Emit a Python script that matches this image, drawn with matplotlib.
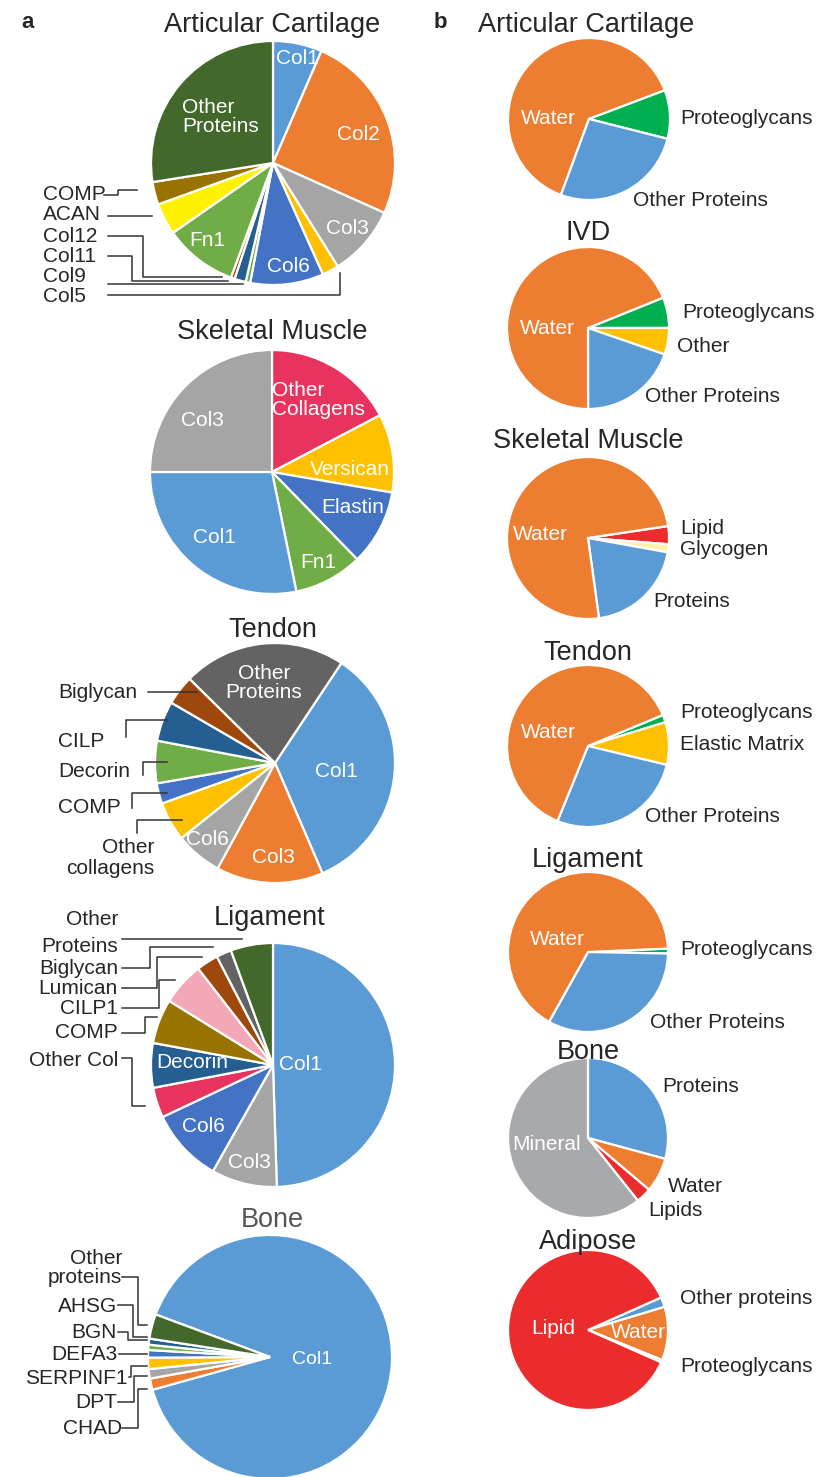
import matplotlib.pyplot as plt

plt.rcParams['font.family'] = ['Liberation Sans', 'DejaVu Sans']

W, H = 829, 1477

# Office-style palette
BLUE = '#5B9BD5'
ORANGE = '#ED7D31'
GRAY = '#A5A5A5'
GOLD = '#FFC000'
MBLUE = '#4472C4'
GREEN = '#70AD47'
DBLUE = '#255E91'
BROWN = '#9E480E'
DGRAY = '#636363'
OLIVE = '#997300'
DGREEN = '#43682B'
YELLOW = '#FFF200'
ROSE = '#E8335E'
PINK = '#F4A7B6'
PGREEN = '#00B050'
RED = '#EC2C2C'
PALE = '#FFF2A8'
MINERAL = '#A7A9AC'

TEXT = '#262626'
LINE = '#333333'

# ---- a: protein composition of the matrix ----
cart_labels = ['Col1', 'Col2', 'Col3', 'Col5', 'Col6', 'Col9', 'Col11', 'Col12',
               'Fn1', 'ACAN', 'COMP', 'Other Proteins']
cart_values = [6.5, 25.2, 9.4, 2.2, 9.7, 0.6, 1.5, 0.5, 9.7, 4.2, 3.0, 27.5]
cart_colors = [BLUE, ORANGE, GRAY, GOLD, MBLUE, GREEN, DBLUE, BROWN,
               GREEN, YELLOW, OLIVE, DGREEN]

musc_labels = ['Other Collagens', 'Versican', 'Elastin', 'Fn1', 'Col1', 'Col3']
musc_values = [17.3, 10.4, 10.0, 9.1, 28.2, 25.0]
musc_colors = [ROSE, GOLD, MBLUE, GREEN, BLUE, GRAY]

tend_labels = ['Col1', 'Col3', 'Col6', 'Other collagens', 'COMP', 'Decorin',
               'CILP', 'Biglycan', 'Other Proteins']
tend_values = [34.2, 14.4, 6.3, 5.3, 2.75, 5.7, 5.4, 4.0, 21.95]
tend_colors = [BLUE, ORANGE, GRAY, GOLD, MBLUE, GREEN, DBLUE, BROWN, DGRAY]

liga_labels = ['Col1', 'Col3', 'Col6', 'Other Col', 'Decorin', 'COMP', 'CILP1',
               'Lumican', 'Biglycan', 'Other Proteins']
liga_values = [49.5, 8.7, 9.8, 4.0, 5.9, 5.9, 5.7, 2.9, 2.0, 5.6]
liga_colors = [BLUE, GRAY, MBLUE, ROSE, DBLUE, OLIVE, PINK, BROWN, DGRAY, DGREEN]

bone_labels = ['Col1', 'CHAD', 'DPT', 'SERPINF1', 'DEFA3', 'BGN', 'AHSG',
               'Other proteins']
bone_values = [90.0, 1.5, 1.25, 1.5, 1.0, 0.7, 0.8, 3.25]
bone_colors = [BLUE, ORANGE, GRAY, GOLD, MBLUE, GREEN, DBLUE, DGREEN]

# ---- b: bulk tissue composition ----
b_cart_labels = ['Water', 'Proteoglycans', 'Other Proteins']
b_cart_values = [63.6, 9.7, 26.7]
b_cart_colors = [ORANGE, PGREEN, BLUE]

b_ivd_labels = ['Proteoglycans', 'Other', 'Other Proteins', 'Water']
b_ivd_values = [6.1, 5.3, 19.7, 68.9]
b_ivd_colors = [PGREEN, GOLD, BLUE, ORANGE]

b_musc_labels = ['Lipid', 'Glycogen', 'Proteins', 'Water']
b_musc_values = [3.6, 1.6, 20.0, 74.8]
b_musc_colors = [RED, PALE, BLUE, ORANGE]

b_tend_labels = ['Proteoglycans', 'Elastic Matrix', 'Other Proteins', 'Water']
b_tend_values = [1.5, 8.5, 27.4, 62.6]
b_tend_colors = [PGREEN, GOLD, BLUE, ORANGE]

b_liga_labels = ['Proteoglycans', 'Other Proteins', 'Water']
b_liga_values = [1.0, 32.8, 66.2]
b_liga_colors = [PGREEN, BLUE, ORANGE]

b_bone_labels = ['Proteins', 'Water', 'Lipids', 'Mineral']
b_bone_values = [29.2, 7.0, 3.1, 60.7]
b_bone_colors = [BLUE, ORANGE, RED, MINERAL]

b_adip_labels = ['Other proteins', 'Water', 'Proteoglycans', 'Lipid']
b_adip_values = [2.0, 10.8, 0.5, 86.7]
b_adip_colors = [BLUE, ORANGE, PGREEN, RED]


fig = plt.figure(figsize=(W / 100, H / 100), dpi=100)
ax = fig.add_axes([0, 0, 1, 1])


def pie(cx, cy, r, values, colors, start):
    ax.pie(values, colors=colors, startangle=start, counterclock=False,
           center=(cx, H - cy), radius=r,
           wedgeprops=dict(edgecolor='white', linewidth=1.6))


def label(x, y, s, color=TEXT, size=15, ha='center', **kw):
    ax.text(x, H - y, s, color=color, fontsize=size, ha=ha, va='center', **kw)


def inner(x, y, s, ha='center', size=15, **kw):
    label(x, y, s, color='white', size=size, ha=ha, **kw)


def leader(pts):
    xs, ys = zip(*pts)
    ax.plot(xs, [H - y for y in ys], color=LINE, lw=1.1)


def title(x, y, s, color=TEXT):
    label(x, y, s, color=color, size=19.5)


# panel letters
label(28, 22, 'a', size=16, fontweight='bold')
label(440, 22, 'b', size=16, fontweight='bold')

# ---------------- column a ----------------
title(272, 25, 'Articular Cartilage')
pie(273, 163, 122, cart_values, cart_colors, 90)
inner(297, 59, 'Col1')
inner(358, 135, 'Col2')
inner(347, 228, 'Col3')
inner(288, 266, 'Col6')
inner(207, 240, 'Fn1')
inner(182, 117, 'Other\nProteins', ha='left', multialignment='left',
      linespacing=1.05)
for name, y in zip(['COMP', 'ACAN', 'Col12', 'Col11', 'Col9', 'Col5'],
                   [194, 215, 236, 256, 277, 296]):
    label(43, y, name, ha='left')
leader([(104, 195), (118, 195), (118, 190), (137, 190)])
leader([(108, 216), (152, 216)])
leader([(108, 236), (143, 236), (143, 277), (222, 277)])
leader([(108, 256), (132, 256), (132, 281), (228, 281)])
leader([(108, 284), (243, 284)])
leader([(108, 295), (340, 295), (340, 273)])

title(272, 332, 'Skeletal Muscle')
pie(272, 472, 122, musc_values, musc_colors, 90)
inner(272, 400, 'Other\nCollagens', ha='left', multialignment='left',
      linespacing=1.0)
inner(350, 470, 'Versican')
inner(353, 508, 'Elastin')
inner(318, 563, 'Fn1')
inner(214, 538, 'Col1')
inner(202, 420, 'Col3')

title(273, 630, 'Tendon')
pie(275, 763, 120, tend_values, tend_colors, 56.4)
inner(264, 683, 'Other\nProteins', linespacing=1.05)
inner(336, 772, 'Col1')
inner(273, 858, 'Col3')
inner(207, 840, 'Col6')
label(58, 693, 'Biglycan', ha='left')
label(58, 742, 'CILP', ha='left')
label(58, 772, 'Decorin', ha='left')
label(58, 808, 'COMP', ha='left')
label(154, 858, 'Other\ncollagens', ha='right', multialignment='right',
      linespacing=1.1)
leader([(148, 692), (197, 692)])
leader([(126, 737), (126, 720), (167, 720)])
leader([(143, 775), (143, 762), (167, 762)])
leader([(132, 808), (132, 793), (167, 793)])
leader([(137, 833), (137, 820), (182, 820)])

title(270, 918, 'Ligament')
pie(273, 1065, 122, liga_values, liga_colors, 90)
inner(192, 1063, 'Decorin')
inner(300, 1065, 'Col1')
inner(203, 1126, 'Col6')
inner(249, 1163, 'Col3')
for name, y in zip(['Other', 'Proteins', 'Biglycan', 'Lumican', 'CILP1',
                    'COMP', 'Other Col'],
                   [920, 947, 968, 988, 1008, 1033, 1060]):
    label(118, y, name, ha='right')
leader([(122, 939), (242, 939)])
leader([(122, 968), (150, 968), (150, 947), (213, 947)])
leader([(122, 988), (157, 988), (157, 957), (202, 957)])
leader([(122, 1008), (159, 1008), (159, 980), (175, 980)])
leader([(122, 1033), (145, 1033), (145, 1017), (157, 1017)])
leader([(122, 1058), (132, 1058), (132, 1106), (145, 1106)])

title(272, 1220, 'Bone', color='#555555')
pie(270, 1357, 122, bone_values, bone_colors, -200.4)
inner(312, 1360, 'Col1', size=14)
label(122, 1268, 'Other\nproteins', ha='right', multialignment='right',
      linespacing=1.05)
label(117, 1306, 'AHSG', ha='right')
label(117, 1332, 'BGN', ha='right')
label(118, 1354, 'DEFA3', ha='right')
label(128, 1378, 'SERPINF1', ha='right')
label(117, 1402, 'DPT', ha='right')
label(122, 1428, 'CHAD', ha='right')
leader([(122, 1277), (138, 1277), (138, 1325), (147, 1325)])
leader([(118, 1305), (133, 1305), (133, 1337), (147, 1337)])
leader([(118, 1332), (128, 1332), (128, 1340), (147, 1340)])
leader([(119, 1354), (147, 1354)])
leader([(129, 1377), (131, 1377), (131, 1366), (147, 1366)])
leader([(118, 1402), (134, 1402), (134, 1376), (147, 1376)])
leader([(122, 1428), (138, 1428), (138, 1389), (147, 1389)])

# ---------------- column b ----------------
title(586, 25, 'Articular Cartilage')
pie(589, 119, 81, b_cart_values, b_cart_colors, 249.7)
inner(548, 118, 'Water')
label(680, 118, 'Proteoglycans', ha='left')
label(633, 200, 'Other Proteins', ha='left')

title(588, 233, 'IVD')
pie(588, 328, 81, b_ivd_values, b_ivd_colors, 22)
inner(547, 328, 'Water')
label(682, 313, 'Proteoglycans', ha='left')
label(677, 347, 'Other', ha='left')
label(645, 397, 'Other Proteins', ha='left')

title(588, 441, 'Skeletal Muscle')
pie(588, 538, 81, b_musc_values, b_musc_colors, 8.5)
inner(540, 535, 'Water')
label(680, 529, 'Lipid', ha='left')
label(680, 550, 'Glycogen', ha='left')
label(653, 602, 'Proteins', ha='left')

title(588, 653, 'Tendon')
pie(588, 746, 81, b_tend_values, b_tend_colors, 22.5)
inner(548, 733, 'Water')
label(680, 713, 'Proteoglycans', ha='left')
label(680, 745, 'Elastic Matrix', ha='left')
label(645, 817, 'Other Proteins', ha='left')

title(588, 860, 'Ligament')
pie(588, 952, 80, b_liga_values, b_liga_colors, 2.5)
inner(557, 940, 'Water')
label(680, 950, 'Proteoglycans', ha='left')
label(650, 1022, 'Other Proteins', ha='left')

title(588, 1052, 'Bone')
pie(588, 1138, 80, b_bone_values, b_bone_colors, 90)
inner(547, 1145, 'Mineral')
label(662, 1086, 'Proteins', ha='left')
label(668, 1186, 'Water', ha='left')
label(648, 1211, 'Lipids', ha='left')

title(588, 1242, 'Adipose')
pie(588, 1330, 80, b_adip_values, b_adip_colors, 24)
inner(553, 1328, 'Lipid')
inner(638, 1333, 'Water')
label(680, 1298, 'Other proteins', ha='left')
label(680, 1367, 'Proteoglycans', ha='left')

ax.set_xlim(0, W)
ax.set_ylim(0, H)
ax.set_aspect('equal')
ax.axis('off')

fig.savefig('out.png', dpi=100)
